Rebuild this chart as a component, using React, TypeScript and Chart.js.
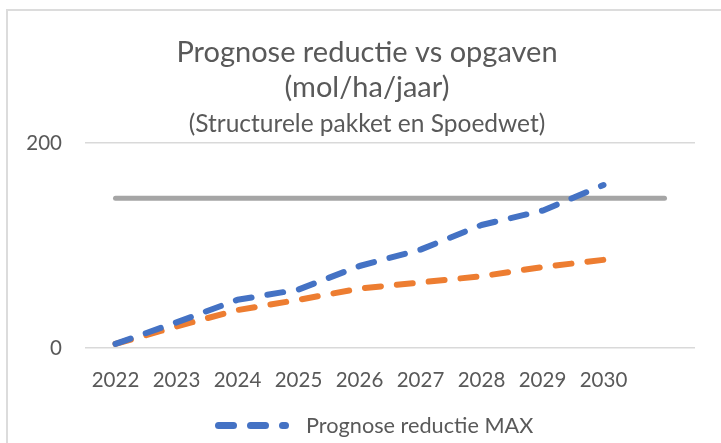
import React, { useEffect, useRef } from 'react';
import { Chart, registerables } from 'chart.js';

Chart.register(...registerables);

const categories = ['2022', '2023', '2024', '2025', '2026', '2027', '2028', '2029', '2030', ''];
const maxValues = [4, 25, 47, 57, 80, 96, 120, 134, 159];
const minValues = [4, 21, 37, 47, 58, 64, 70, 79, 86];
const targetValues = [146, 146, 146, 146, 146, 146, 146, 146, 146, 146];
const yTicks = [0, 200];

const titleLines = ['Prognose reductie vs opgaven', '(mol/ha/jaar)'];
const subtitleText = '(Structurele pakket en Spoedwet)';
const legendLabel = 'Prognose reductie MAX';

const TEXT = '#595959';
const FONT = 'Lato';

export default function App() {
  const ref = useRef<HTMLCanvasElement>(null);

  useEffect(() => {
    const chart = new Chart(ref.current as HTMLCanvasElement, {
      type: 'line',
      data: {
        labels: categories,
        datasets: [
          {
            label: 'Prognose reductie MAX',
            data: maxValues,
            borderColor: '#4472C4',
            backgroundColor: '#4472C4',
            borderWidth: 6,
            borderDash: [16, 16],
            borderCapStyle: 'round',
            borderJoinStyle: 'round',
            pointRadius: 0,
            tension: 0,
            fill: false,
          },
          {
            label: 'Prognose reductie MIN',
            data: minValues,
            borderColor: '#ED7D31',
            backgroundColor: '#ED7D31',
            borderWidth: 6,
            borderDash: [16, 16],
            borderCapStyle: 'round',
            borderJoinStyle: 'round',
            pointRadius: 0,
            tension: 0,
            fill: false,
          },
          {
            label: 'Opgave',
            data: targetValues,
            borderColor: '#A5A5A5',
            backgroundColor: '#A5A5A5',
            borderWidth: 5,
            borderCapStyle: 'round',
            pointRadius: 0,
            tension: 0,
            fill: false,
          },
        ],
      },
      options: {
        responsive: false,
        animation: false,
        devicePixelRatio: 1,
        layout: { padding: { left: 13, right: 0, top: 0, bottom: 0 } },
        plugins: {
          legend: { display: false },
          tooltip: { enabled: false },
          title: {
            display: true,
            text: titleLines,
            color: TEXT,
            font: { family: FONT, size: 29, weight: 'normal', lineHeight: 35 / 29 },
            padding: { top: 35, bottom: 0 },
          },
          subtitle: {
            display: true,
            text: subtitleText,
            color: TEXT,
            font: { family: FONT, size: 24.5, weight: 'normal', lineHeight: 35 / 24.5 },
            padding: { top: 2, bottom: 1 },
          },
        },
        scales: {
          x: {
            offset: true,
            grid: { display: false, drawTicks: false, offset: true },
            border: { display: false },
            ticks: {
              color: TEXT,
              font: { family: FONT, size: 20.5 },
              autoSkip: false,
              maxRotation: 0,
              padding: 20,
            },
            afterFit: (scale: any) => {
              scale.height = 95;
            },
          },
          y: {
            min: 0,
            max: 200,
            afterBuildTicks: (scale: any) => {
              scale.ticks = yTicks.map((v) => ({ value: v }));
            },
            grid: { color: '#d9d9d9', lineWidth: 1.5, drawTicks: false },
            border: { display: false },
            ticks: {
              color: TEXT,
              font: { family: FONT, size: 20.5 },
              padding: 23,
            },
            afterFit: (scale: any) => {
              scale.width = 72;
            },
          },
          yRight: {
            position: 'right',
            display: true,
            min: 0,
            max: 200,
            grid: { display: false, drawTicks: false },
            border: { display: false },
            ticks: { display: false },
            afterFit: (scale: any) => {
              scale.width = 26;
            },
          },
        },
      },
    });
    return () => chart.destroy();
  }, []);

  return (
    <div
      style={{
        position: 'fixed',
        left: 0,
        top: 0,
        width: 721,
        height: 443,
        background: '#ffffff',
        overflow: 'hidden',
      }}
    >
      <div
        style={{
          position: 'absolute',
          left: 6,
          top: 9,
          width: 800,
          height: 500,
          borderTop: '2px solid #dcdcdc',
          borderLeft: '2px solid #dcdcdc',
        }}
      />
      <canvas
        ref={ref}
        width={721}
        height={443}
        style={{ position: 'absolute', left: 0, top: 0, width: 721, height: 443 }}
      />
      <div
        style={{
          position: 'absolute',
          left: 215,
          top: 411,
          height: 28,
          display: 'flex',
          alignItems: 'center',
          fontFamily: FONT,
          fontSize: 21.7,
          color: TEXT,
          whiteSpace: 'nowrap',
        }}
      >
        <span style={{ display: 'inline-block', width: 22, height: 7, borderRadius: 4, background: '#4472C4' }} />
        <span style={{ display: 'inline-block', width: 22, height: 7, borderRadius: 4, background: '#4472C4', marginLeft: 10 }} />
        <span style={{ display: 'inline-block', width: 10, height: 7, borderRadius: 4, background: '#4472C4', marginLeft: 10 }} />
        <span style={{ marginLeft: 17 }}>{legendLabel}</span>
      </div>
    </div>
  );
}
